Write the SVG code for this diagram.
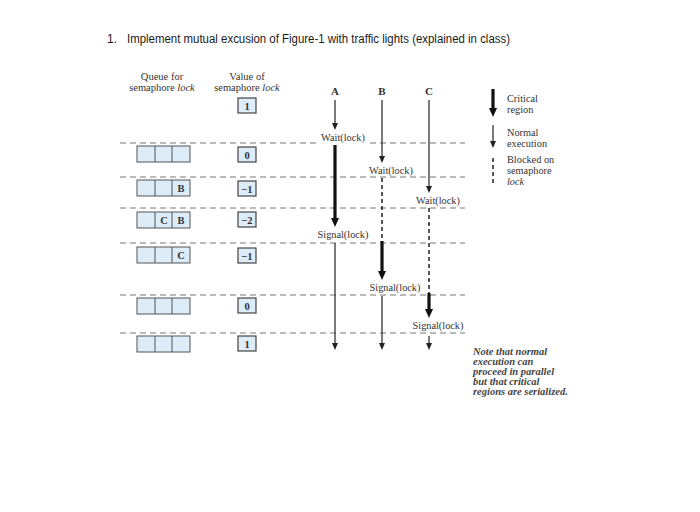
<svg xmlns="http://www.w3.org/2000/svg" width="700" height="512" viewBox="0 0 700 512">
<style>
.title{font-family:"Liberation Sans",Arial,sans-serif;font-size:12px;fill:#1a1a1a}
.t{font-family:"Liberation Serif","Times New Roman",serif;fill:#333}
.hdr{font-size:10.5px}
.lbl{font-size:10.3px}
.abc{font-size:11px;font-weight:bold}
.val{font-size:10.5px;font-weight:bold;fill:#333}
.note{font-size:10.5px;font-weight:bold;font-style:italic;fill:#444}
.dash{stroke:#777;stroke-width:1;stroke-dasharray:6,4;fill:none}
.box{fill:#dcecf8;stroke:#555;stroke-width:1}
.vbox{fill:#dcecf8;stroke:#444;stroke-width:1.2}
.thin{stroke:#222;stroke-width:1.2;fill:none}
.thick{stroke:#111;stroke-width:3.2;fill:none}
.blk{stroke:#222;stroke-width:1.5;stroke-dasharray:4,3;fill:none}
</style>
<defs>
<marker id="hThin" markerWidth="7" markerHeight="8" refX="0" refY="3" orient="auto" markerUnits="userSpaceOnUse"><path d="M0,0 L7,3 L0,6 z" fill="#222"/></marker>
<marker id="hThick" markerWidth="9" markerHeight="9" refX="0" refY="4" orient="auto" markerUnits="userSpaceOnUse"><path d="M0,0 L9,4 L0,8 z" fill="#111"/></marker>
</defs>
<rect width="700" height="512" fill="#fff"/>

<g id="title">
<text class="title" x="107" y="43">1.</text>
<text class="title" x="127" y="43" textLength="383" lengthAdjust="spacingAndGlyphs">Implement mutual excusion of Figure-1 with traffic lights (explained in class)</text>
</g>

<g id="headers">
<text class="t hdr" x="162" y="80" text-anchor="middle">Queue for</text>
<text class="t hdr" x="162" y="91" text-anchor="middle">semaphore <tspan font-style="italic">lock</tspan></text>
<text class="t hdr" x="247" y="80" text-anchor="middle">Value of</text>
<text class="t hdr" x="247" y="91" text-anchor="middle">semaphore <tspan font-style="italic">lock</tspan></text>
</g>

<g id="dashed-lines">
<path class="dash" d="M120,143 H316 M370,143 H465"/>
<path class="dash" d="M120,177 H465"/>
<path class="dash" d="M120,208 H465"/>
<path class="dash" d="M120,243 H465"/>
<path class="dash" d="M120,295 H465"/>
<path class="dash" d="M120,333 H465"/>
</g>

<g id="queues">
<g id="q1"><rect class="box" x="137" y="146" width="53" height="16"/><path stroke="#555" d="M155,146 V162 M172,146 V162"/></g>
<g id="q2"><rect class="box" x="137" y="180" width="53" height="16"/><path stroke="#555" d="M155,180 V196 M172,180 V196"/><text class="t val" x="181" y="192" text-anchor="middle">B</text></g>
<g id="q3"><rect class="box" x="137" y="212" width="53" height="16"/><path stroke="#555" d="M155,212 V228 M172,212 V228"/><text class="t val" x="164" y="224" text-anchor="middle">C</text><text class="t val" x="181" y="224" text-anchor="middle">B</text></g>
<g id="q4"><rect class="box" x="137" y="247" width="53" height="16"/><path stroke="#555" d="M155,247 V263 M172,247 V263"/><text class="t val" x="181" y="259" text-anchor="middle">C</text></g>
<g id="q5"><rect class="box" x="137" y="298" width="53" height="16"/><path stroke="#555" d="M155,298 V314 M172,298 V314"/></g>
<g id="q6"><rect class="box" x="137" y="336" width="53" height="16"/><path stroke="#555" d="M155,336 V352 M172,336 V352"/></g>
</g>

<g id="values">
<g id="v1"><rect class="vbox" x="238" y="98" width="18" height="15"/><text class="t val" x="247" y="109.5" text-anchor="middle">1</text></g>
<g id="v2"><rect class="vbox" x="238" y="147" width="18" height="15"/><text class="t val" x="247" y="158.5" text-anchor="middle">0</text></g>
<g id="v3"><rect class="vbox" x="238" y="181" width="18" height="15"/><text class="t val" x="247" y="192.5" text-anchor="middle">−1</text></g>
<g id="v4"><rect class="vbox" x="238" y="212" width="18" height="15"/><text class="t val" x="247" y="223.5" text-anchor="middle">−2</text></g>
<g id="v5"><rect class="vbox" x="238" y="248" width="18" height="15"/><text class="t val" x="247" y="259.5" text-anchor="middle">−1</text></g>
<g id="v6"><rect class="vbox" x="238" y="298" width="18" height="15"/><text class="t val" x="247" y="309.5" text-anchor="middle">0</text></g>
<g id="v7"><rect class="vbox" x="238" y="336" width="18" height="15"/><text class="t val" x="247" y="347.5" text-anchor="middle">1</text></g>
</g>

<g id="process-A">
<text class="t abc" x="335" y="95" text-anchor="middle">A</text>
<text class="t lbl" x="343" y="141" text-anchor="middle">Wait(lock)</text>
<text class="t lbl" x="343" y="238" text-anchor="middle">Signal(lock)</text>
</g>
<g id="process-B">
<text class="t abc" x="382" y="95" text-anchor="middle">B</text>
<text class="t lbl" x="391" y="174" text-anchor="middle">Wait(lock)</text>
<text class="t lbl" x="395" y="291" text-anchor="middle">Signal(lock)</text>
</g>
<g id="process-C">
<text class="t abc" x="429" y="95" text-anchor="middle">C</text>
<text class="t lbl" x="438" y="204" text-anchor="middle">Wait(lock)</text>
<text class="t lbl" x="438" y="329" text-anchor="middle">Signal(lock)</text>
</g>

<g id="connectors">
<path class="thin" d="M335,100 V123" marker-end="url(#hThin)"/>
<path class="thick" d="M335,145 V218" marker-end="url(#hThick)"/>
<path class="thin" d="M335,243 V343" marker-end="url(#hThin)"/>

<path class="thin" d="M382,100 V156" marker-end="url(#hThin)"/>
<path class="blk" d="M382,178 V241"/>
<path class="thick" d="M382,241 V271" marker-end="url(#hThick)"/>
<path class="thin" d="M382,296 V343" marker-end="url(#hThin)"/>

<path class="thin" d="M429,100 V186" marker-end="url(#hThin)"/>
<path class="blk" d="M429,208 V293"/>
<path class="thick" d="M429,293 V309" marker-end="url(#hThick)"/>
<path class="thin" d="M429,336 V343" marker-end="url(#hThin)"/>
</g>

<g id="legend">
<path class="thick" d="M493,89 V108" marker-end="url(#hThick)"/>
<text class="t lbl" x="507" y="102">Critical</text>
<text class="t lbl" x="507" y="113">region</text>
<path class="thin" d="M493,125 V141" marker-end="url(#hThin)"/>
<text class="t lbl" x="507" y="136">Normal</text>
<text class="t lbl" x="507" y="147">execution</text>
<path class="blk" d="M493,158 V184" stroke-width="2" stroke-dasharray="3,2"/>
<text class="t lbl" x="507" y="163">Blocked on</text>
<text class="t lbl" x="507" y="174">semaphore</text>
<text class="t lbl" x="507" y="185" font-style="italic">lock</text>
</g>

<g id="note">
<text class="t note" x="473" y="355">Note that normal</text>
<text class="t note" x="473" y="365">execution can</text>
<text class="t note" x="473" y="375">proceed in parallel</text>
<text class="t note" x="473" y="385">but that critical</text>
<text class="t note" x="473" y="395">regions are serialized.</text>
</g>
</svg>
